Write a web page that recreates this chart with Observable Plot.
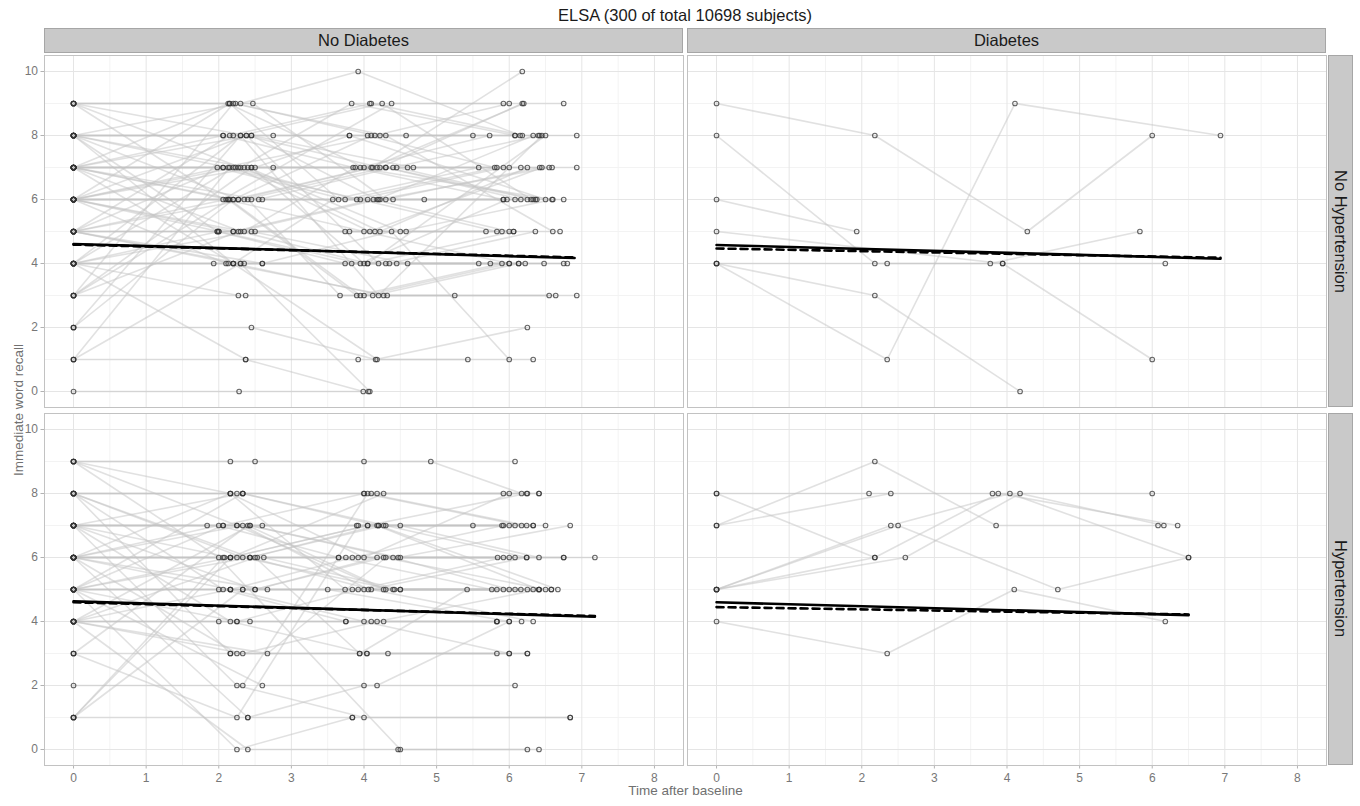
<!DOCTYPE html>
<html><head><meta charset="utf-8">
<script src="https://cdn.jsdelivr.net/npm/d3@7"></script>
<script src="https://cdn.jsdelivr.net/npm/@observablehq/plot@0.6"></script>
<style>
body{margin:0;background:#fff;font-family:"Liberation Sans",Arial,sans-serif;}
#wrap{position:relative;width:1360px;height:806px;overflow:hidden;background:#fff}
#wrap svg{position:absolute;left:0;top:0}
.strip{position:absolute;background:#c9c9c9;border:1px solid #a6a6a6;box-sizing:border-box;display:flex;align-items:center;justify-content:center;font-size:16.5px;color:#1a1a1a}
.strip.v{writing-mode:vertical-rl}
.lbl{position:absolute;color:#707070;font-size:13.5px;white-space:nowrap}
#title{position:absolute;top:6px;left:0;width:1370px;text-align:center;font-size:16.5px;color:#1a1a1a}
g[aria-label="x-axis tick"] path, g[aria-label="y-axis tick"] path{stroke:#b3b3b3}
</style></head>
<body><div id="wrap"><div id="title">ELSA (300 of total 10698 subjects)</div></div>
<script>
const diabetesLevels = ["No Diabetes", "Diabetes"];
const hypertensionLevels = ["No Hypertension", "Hypertension"];
const xTicks = [0, 1, 2, 3, 4, 5, 6, 7, 8];
const xMinor = [0.5, 1.5, 2.5, 3.5, 4.5, 5.5, 6.5, 7.5];
const yTicks = [0, 2, 4, 6, 8, 10];
const yMinor = [1, 3, 5, 7, 9];

// each subject: "time:score time:score ..."
const subjectsNoDiabNoHyp = [
"0:9 2.15:9 4.08:9 5.92:9","0:9 2.23:9 4.15:8 6.0:9","0:9 2.3:7 3.83:9 6.08:8","0:9 2.38:8 4.22:7 6.18:9",
"0:9 2.47:9 4.3:6 6.42:7","0:9 2.06:6 4.38:9 6.75:9","0:8 2.3:9 3.92:10 6.15:8","0:8 2.06:8 3.8:8 5.5:8",
"0:8 2.13:7 3.95:7 5.73:8","0:8 2.2:8 4.05:8 5.8:7","0:8 2.27:6 4.12:7 6.18:10","0:8 2.45:8 4.18:6 6.33:8",
"0:8 2.75:8 4.58:8 6.93:8","0:8 1.98:5 3.74:4 5.58:4","0:8 2.2:4 4.27:3 6.55:3","0:8 2.4:7 4.5:5 6.6:6",
"0:7 1.98:7 3.74:6 5.83:7","0:7 2.06:8 3.85:7 5.92:6","0:7 2.13:9 4.0:7 6.0:7","0:7 2.2:6 4.1:8 6.08:8",
"0:7 2.27:7 4.18:7 6.16:7","0:7 2.35:7 4.22:5 6.25:7","0:7 2.45:7 4.3:7 6.33:6","0:7 2.55:6 4.4:7 6.42:8",
"0:7 2.75:7 4.6:7 6.93:7","0:7 2.13:6 3.9:3 5.9:4","0:7 2.3:5 4.05:4 6.5:8","0:7 2.45:8 4.68:7 6.59:7",
"0:7 2.2:4 3.57:6 5.58:7","0:6 2.06:7 3.95:6 5.83:5","0:6 2.13:6 4.05:6 5.92:6","0:6 2.2:5 4.13:6 6.0:5",
"0:6 2.27:6 4.22:6 6.08:6","0:6 2.35:6 4.3:7 6.16:6","0:6 2.45:6 4.4:6 6.25:6","0:6 2.6:6 4.83:6 6.75:6",
"0:6 2.15:9 3.65:6 6.38:6","0:6 2.0:5 3.74:5 5.68:5","0:6 2.23:7 4.08:5 6.45:7","0:6 2.38:8 4.2:4 6.13:4",
"0:6 2.5:7 3.8:8 6.5:6","0:6 2.1:4 4.32:3 6.64:3","0:6 2.35:5 3.88:7 6.59:6","0:5 1.98:5 3.8:5 5.9:5",
"0:5 2.1:6 4.0:5 6.0:4","0:5 2.2:5 4.15:5 6.06:5","0:5 2.3:4 4.35:4 6.36:5","0:5 2.5:5 4.58:5 6.7:5",
"0:5 2.06:7 4.22:8 6.4:8","0:5 2.4:6 3.67:3 6.93:3","0:5 2.2:4 4.18:1 6.33:1","0:5 2.6:4 4.45:4 6.22:4",
"0:5 2.15:8 4.1:9 6.18:8","0:4 1.93:4 3.83:4 5.74:4","0:4 2.0:5 3.95:4 5.97:6","0:4 2.13:4 4.05:4 6.06:5",
"0:4 2.27:3 4.12:3 6.13:4","0:4 2.35:4 4.3:4 6.48:4","0:4 2.45:5 4.6:4 6.75:4","0:4 2.6:4 4.38:5 6.0:1",
"0:4 2.2:7 3.9:6 5.92:7","0:4 2.3:8 4.25:9 6.3:6","0:4 2.37:1 3.92:1 5.43:1","0:3 2.37:3 4.0:3 6.0:4",
"0:3 2.27:5 4.2:6 6.55:7","0:3 2.15:6 3.95:3 5.25:3","0:3 2.45:7 4.0:4 6.8:4","0:3 2.2:9 4.3:8 6.6:5",
"0:2 2.45:2 4.16:1 6.25:2","0:2 2.2:6 4.1:7 6.2:9","0:2 2.3:8 4.2:3 6.45:8","0:1 2.37:1 3.99:0",
"0:1 2.15:7 4.45:7 6.36:6","0:1 2.3:4 4.08:0","0:0 2.28:0 4.06:0"
];
const subjectsNoDiabHyp = [
"0:9 2.16:9 4.0:9 6.08:9","0:9 2.5:9 4.92:9 6.17:8","0:9 2.25:7 4.27:5 6.41:5","0:9 2.0:6 4.5:0 6.25:0",
"0:8 2.16:8 4.0:8 5.92:8","0:8 2.25:8 4.1:8 6.25:8","0:8 2.33:8 4.18:8 6.41:8","0:8 2.43:6 4.27:7 6.5:7",
"0:8 2.06:5 3.75:4 5.83:4","0:8 2.16:3 3.94:3 5.83:3","0:8 2.33:6 4.4:5 6.33:5","0:7 2.06:7 3.9:7 5.9:7",
"0:7 2.16:6 4.05:7 6.0:7","0:7 2.25:7 4.2:7 6.08:7","0:7 2.33:8 4.3:7 6.24:6","0:7 2.43:7 4.47:6 6.84:7",
"0:7 1.84:7 5.5:7 6.33:7","0:7 2.6:7 4.5:7 6.41:6","0:7 2.16:4 4.04:3 6.0:3","0:7 2.25:2 4.0:1 6.84:1",
"0:7 2.5:5 4.18:6 6.75:6","0:6 2.0:7 3.65:6 5.76:5","0:6 2.08:6 3.75:6 5.84:6","0:6 2.16:5 3.84:6 5.92:7",
"0:6 2.25:6 3.92:6 6.0:6","0:6 2.33:7 4.06:5 6.24:6","0:6 2.43:6 4.18:7 6.41:5","0:6 2.53:6 4.5:6 7.18:6",
"0:6 2.62:6 4.5:5 6.08:5","0:6 2.16:8 3.74:5 6.16:5","0:6 2.4:1 4.0:2 6.08:2","0:6 2.25:3 4.33:3 6.25:3",
"0:6 2.67:5 3.5:5 6.0:4","0:5 2.16:5 3.84:5 5.83:5","0:5 2.25:4 3.92:5 5.92:6","0:5 2.33:5 4.0:5 6.25:5",
"0:5 2.43:6 4.1:5 6.33:4","0:5 2.5:5 4.27:6 6.5:5","0:5 2.0:5 4.42:5 6.58:5","0:5 2.06:7 4.0:8 6.17:7",
"0:5 2.16:6 4.05:7 6.24:8","0:5 2.6:2 4.18:2 6.0:4","0:5 2.33:8 4.2:7 6.67:5","0:5 2.25:0 3.84:1",
"0:4 2.0:4 3.75:4 5.83:4","0:4 2.16:5 4.0:4 6.0:3","0:4 2.25:4 4.1:4 6.17:4","0:4 2.33:3 4.18:4 6.41:5",
"0:4 2.43:4 4.27:4 5.83:4","0:4 2.4:0 4.47:0 6.41:0","0:4 2.67:3 4.3:6 6.08:6","0:4 2.43:7 4.4:6 6.0:5",
"0:4 2.5:6 3.94:3 5.42:5","0:3 2.16:3 4.04:3 6.25:3","0:3 2.4:7 4.3:5 5.92:5","0:3 2.25:1 3.92:7 6.33:7",
"0:2 2.33:2 4.05:8 6.24:7","0:1 2.16:6 4.27:8 6.41:8","0:1 2.06:6 3.65:6 6.75:6","0:1 2.33:5 4.5:5 6.58:5",
"0:1 2.4:1 3.84:1 6.84:1","0:9 2.16:8 4.0:6 6.0:8"
];
const subjectsDiabNoHyp = [
"0:9 2.18:8 4.28:5 6.0:8","0:4 2.35:1 4.11:9 6.94:8","0:8 2.18:4 3.77:4 5.83:5","0:6 1.93:5",
"0:5 3.94:4 6.18:4","0:4 2.18:3 4.18:0","0:4 2.35:4 3.94:4 6.0:1"
];
const subjectsDiabHyp = [
"0:8 2.1:8 3.8:8 6.0:8","0:8 2.18:6 3.88:8 6.35:7","0:7 2.18:9 3.85:7 6.08:7","0:5 2.4:7 4.04:8 6.5:6",
"0:5 2.6:6 4.18:8 6.16:7","0:7 2.4:8","0:5 2.5:7 4.7:5 6.5:6","0:4 2.35:3 4.1:5 6.18:4","0:5 2.18:6"
];
// population trend lines per panel (time:score at start and end)
const trendSolid = {"No Diabetes|No Hypertension":"0:4.61 6.9:4.17","Diabetes|No Hypertension":"0:4.58 6.94:4.15",
  "No Diabetes|Hypertension":"0:4.63 7.18:4.15","Diabetes|Hypertension":"0:4.6 6.5:4.2"};
const trendDashed = {"No Diabetes|No Hypertension":"0:4.59 6.9:4.19","Diabetes|No Hypertension":"0:4.47 6.94:4.18",
  "No Diabetes|Hypertension":"0:4.6 7.18:4.17","Diabetes|Hypertension":"0:4.45 6.5:4.22"};

const parse = s => s.split(" ").map(p => p.split(":").map(Number));
const rows = [];
[["No Diabetes","No Hypertension",subjectsNoDiabNoHyp],["No Diabetes","Hypertension",subjectsNoDiabHyp],
 ["Diabetes","No Hypertension",subjectsDiabNoHyp],["Diabetes","Hypertension",subjectsDiabHyp]].forEach(([dia,hyp,list]) => {
  list.forEach((s,i) => parse(s).forEach(([t,v]) => rows.push({dia, hyp, id: dia+hyp+i, t, v})));
});
const trendRows = obj => Object.entries(obj).flatMap(([k,s]) => {
  const [dia,hyp] = k.split("|");
  return parse(s).map(([t,v]) => ({dia, hyp, id:k, t, v}));
});
const solidRows = trendRows(trendSolid), dashedRows = trendRows(trendDashed);

const W = 1360, H = 806, mL = 44, mR = 33, mT = 54, mB = 40;
const chart = Plot.plot({
  width: W, height: H, marginLeft: mL, marginRight: mR, marginTop: mT, marginBottom: mB,
  style: {fontFamily: '"Liberation Sans",Arial,sans-serif', fontSize: "12px", color: "#777", background: "transparent"},
  fx: {domain: diabetesLevels, axis: null, paddingInner: 0.0062, paddingOuter: 0},
  fy: {domain: hypertensionLevels, axis: null, paddingInner: 0.0167, paddingOuter: 0},
  x: {domain: [-0.4, 8.4], ticks: xTicks, tickSize: 3.5, tickPadding: 4, label: null, tickFormat: d => String(d)},
  y: {domain: [-0.5, 10.5], ticks: yTicks, tickSize: 3.5, tickPadding: 3, label: null, tickFormat: d => String(d)},
  marks: [
    Plot.ruleX(xMinor, {stroke: "#f3f3f3", strokeWidth: 1}),
    Plot.ruleY(yMinor, {stroke: "#f3f3f3", strokeWidth: 1}),
    Plot.ruleX(xTicks, {stroke: "#e5e5e5", strokeWidth: 1}),
    Plot.ruleY(yTicks, {stroke: "#e5e5e5", strokeWidth: 1}),
    Plot.line(rows, {x: "t", y: "v", z: "id", fx: "dia", fy: "hyp", stroke: "#c4c4c4", strokeOpacity: 0.5, strokeWidth: 1.6, curve: "linear"}),
    Plot.dot(rows, {x: "t", y: "v", fx: "dia", fy: "hyp", r: 2.3, fill: "none", stroke: "#333", strokeOpacity: 0.75, strokeWidth: 1.1}),
    Plot.line(solidRows, {x: "t", y: "v", z: "id", fx: "dia", fy: "hyp", stroke: "#000", strokeWidth: 2.6}),
    Plot.line(dashedRows, {x: "t", y: "v", z: "id", fx: "dia", fy: "hyp", stroke: "#000", strokeWidth: 2.6, strokeDasharray: "7,5"}),
    Plot.frame({stroke: "#c2c2c2", strokeWidth: 1})
  ]
});
const wrap = document.getElementById("wrap");
wrap.insertBefore(chart, wrap.firstChild);

const fx = chart.scale("fx"), fy = chart.scale("fy");
const bwx = fx.bandwidth, bwy = fy.bandwidth;
function add(cls, txt, css) {
  const d = document.createElement("div");
  d.className = cls; d.textContent = txt;
  Object.assign(d.style, css);
  wrap.appendChild(d);
}
diabetesLevels.forEach(d => {
  const x0 = fx.apply(d);
  add("strip", d, {left: x0 + "px", top: "28px", width: bwx + "px", height: (mT - 1 - 28) + "px"});
});
hypertensionLevels.forEach(h => {
  const y0 = fy.apply(h);
  add("strip v", h, {left: (W - mR + 1) + "px", top: y0 + "px", width: "25px", height: bwy + "px"});
});
add("lbl", "Time after baseline", {left: "0px", width: (2 * mL + (W - mL - mR)) + "px", textAlign: "center", top: "783px"});
const yl = document.createElement("div");
yl.className = "lbl"; yl.textContent = "Immediate word recall";
Object.assign(yl.style, {left: "18px", top: ((mT + H - mB) / 2) + "px", transform: "translate(-50%,-50%) rotate(-90deg)"});
wrap.appendChild(yl);
</script></body></html>
